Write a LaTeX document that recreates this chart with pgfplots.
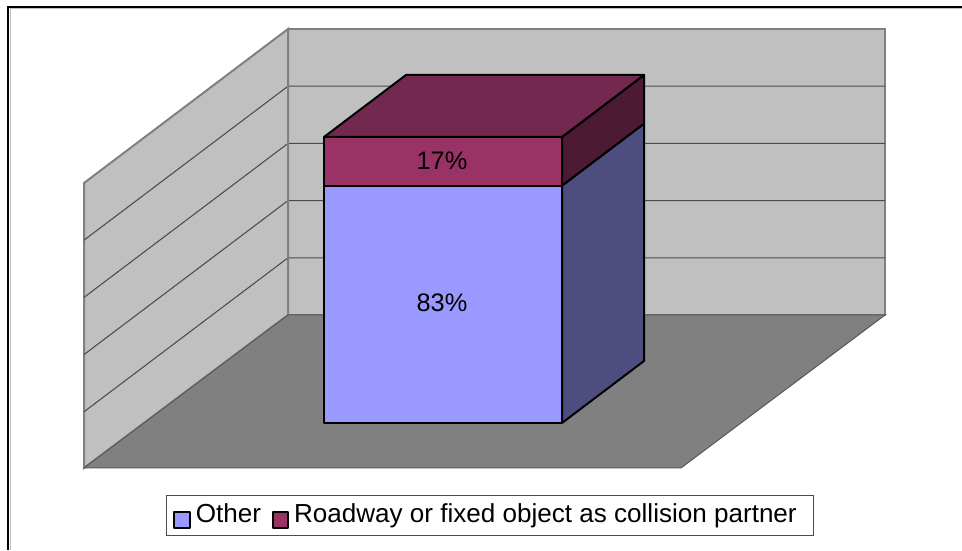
\documentclass[border=0pt]{standalone}
\usepackage{fontspec}
\setmainfont{Liberation Sans}
\usepackage{pgfplots}
\pgfplotsset{compat=1.18}
\definecolor{wall}{HTML}{C0C0C0}
\definecolor{floorc}{HTML}{808080}
\definecolor{edgec}{HTML}{808080}
\definecolor{otherf}{HTML}{9999FF}
\definecolor{others}{HTML}{4D4D80}
\definecolor{roadf}{HTML}{993366}
\definecolor{roadt}{HTML}{73284F}
\definecolor{roads}{HTML}{4D1A33}
\begin{document}
\begin{tikzpicture}
\begin{axis}[
  scale only axis, width=721.5pt, height=412.5pt,
  xmin=0, xmax=962, ymin=-44.41, ymax=147.90,
  hide axis, clip=true,
  legend columns=2,
  legend cell align=left,
  legend style={at={(166/962,1-495/550)}, anchor=north west,
    draw=black!70, line width=0.75pt, fill=white,
    font=\fontsize{19.55pt}{21pt}\selectfont,
    inner xsep=5.25pt, inner ysep=5pt,
    /tikz/every odd column/.style={column sep=2.25pt},
    /tikz/column 2/.style={column sep=6.5pt},
    nodes={inner xsep=1.5pt, inner ysep=1pt}},
  legend image code/.code={
    \draw[#1, draw=black, line width=1.4pt] (0.6pt,-10.5pt) rectangle (12.2pt,1.5pt);},
]
% chart frame (top and left only, as in the reference)
\addplot[forget plot, draw=black!25, line width=0.75pt] coordinates {(10,-44.41) (10,144.8) (962,144.8)};
\addplot[forget plot, draw=black, line width=1.6pt] coordinates {(8,-44.41) (8,145.45) (962,145.45)};
% back wall
\addplot[forget plot, fill=wall, draw=edgec, line width=1.5pt] coordinates {(288,37.76) (288,137.76) (885,137.76) (885,37.76)} -- cycle;
% left wall
\addplot[forget plot, fill=wall, draw=edgec, line width=1.5pt] coordinates {(84,-15.73) (84,83.92) (288,137.76) (288,37.76)} -- cycle;
% gridlines at 20, 40, 60, 80
\addplot[forget plot, draw=black!70, line width=0.8pt] coordinates {(84,3.92) (288,57.76) (885,57.76)};
\addplot[forget plot, draw=black!70, line width=0.8pt] coordinates {(84,23.92) (288,77.76) (885,77.76)};
\addplot[forget plot, draw=black!70, line width=0.8pt] coordinates {(84,43.92) (288,97.76) (885,97.76)};
\addplot[forget plot, draw=black!70, line width=0.8pt] coordinates {(84,63.92) (288,117.76) (885,117.76)};
% redraw the wall corner over the gridlines
\addplot[forget plot, draw=edgec, line width=1.5pt] coordinates {(288,37.76) (288,137.76)};
% floor
\addplot[forget plot, fill=floorc, draw=black!65, line width=0.75pt] coordinates {(84,-15.73) (288,37.76) (885,37.76) (681,-15.73)} -- cycle;
% bar sides and top
\addplot[forget plot, fill=others, draw=black, line width=1.5pt, line join=round] coordinates {(562,0) (644,21.68) (644,104.68) (562,83)} -- cycle;
\addplot[forget plot, fill=roads, draw=black, line width=1.5pt, line join=round] coordinates {(562,83) (644,104.68) (644,121.68) (562,100)} -- cycle;
\addplot[forget plot, fill=roadt, draw=black, line width=1.5pt, line join=round] coordinates {(324,100) (562,100) (644,121.68) (406,121.68)} -- cycle;
% bar fronts: Other 83, Roadway 17
\addplot[fill=otherf, draw=black, line width=1.5pt, line join=round] coordinates {(324,0) (324,83) (562,83) (562,0)} -- cycle;
\addlegendentry{Other\rule[-12pt]{0pt}{0pt}}
\addplot[fill=roadf, draw=black, line width=1.5pt, line join=round] coordinates {(324,83) (324,100) (562,100) (562,83)} -- cycle;
\addlegendentry{Roadway or fixed object as collision partner\hspace*{6pt}\rule[-12pt]{0pt}{0pt}}
\node[font=\fontsize{19pt}{21pt}\selectfont] at (axis cs:442,42.2) {83\%};
\node[font=\fontsize{19pt}{21pt}\selectfont] at (axis cs:442,91.8) {17\%};
\end{axis}
\path (current axis.south west) rectangle (current axis.north east);
\end{tikzpicture}
\end{document}
